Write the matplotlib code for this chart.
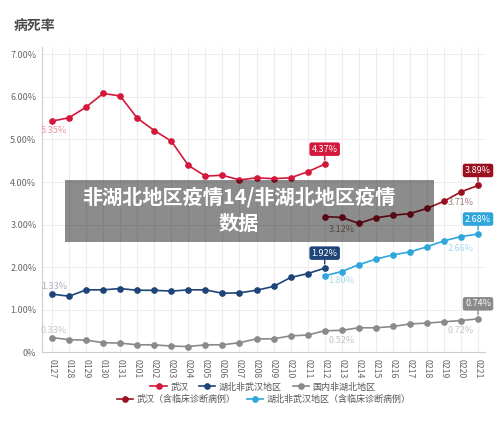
import numpy as np
import matplotlib
matplotlib.use("Agg")
import matplotlib.pyplot as plt
from matplotlib.patches import Rectangle

plt.rcParams['font.family'] = ['Noto Sans CJK SC', 'DejaVu Sans']

dates = ["0127", "0128", "0129", "0130", "0131", "0201", "0202", "0203", "0204",
         "0205", "0206", "0207", "0208", "0209", "0210", "0211", "0212", "0213",
         "0214", "0215", "0216", "0217", "0218", "0219", "0220", "0221"]

# 病死率 (%)
wuhan = [5.43, 5.51, 5.76, 6.08, 6.02, 5.50, 5.21, 4.96, 4.39, 4.14, 4.16,
         4.05, 4.10, 4.08, 4.10, 4.24, 4.42]
hubei_other = [1.37, 1.32, 1.47, 1.47, 1.50, 1.46, 1.46, 1.44, 1.47, 1.47, 1.39,
               1.40, 1.46, 1.55, 1.76, 1.85, 1.98]
non_hubei = [0.35, 0.30, 0.29, 0.23, 0.22, 0.18, 0.18, 0.15, 0.14, 0.18, 0.18,
             0.23, 0.32, 0.32, 0.39, 0.41, 0.51, 0.52, 0.58, 0.58, 0.61, 0.67,
             0.69, 0.72, 0.75, 0.79]
wuhan_clin = [3.19, 3.17, 3.03, 3.16, 3.22, 3.26, 3.38, 3.55, 3.77, 3.92]
hubei_other_clin = [1.80, 1.90, 2.06, 2.19, 2.29, 2.36, 2.48, 2.62, 2.72, 2.78]

series_names = ["武汉", "湖北非武汉地区", "国内非湖北地区",
                "武汉（含临床诊断病例）", "湖北非武汉地区（含临床诊断病例）"]
series_values = [wuhan, hubei_other, non_hubei, wuhan_clin, hubei_other_clin]
series_start = [0, 0, 0, 16, 16]
colors = ["#d4183b", "#1f4478", "#8a8a8a", "#9b1020", "#2ea6dc"]
pale_colors = ["#e9939f", "#a9b0bb", "#c4c4c4", "#a27a7a", "#a6d8ee"]

# tag labels at the last point
tag_series = [0, 1, 3, 4, 2]
tag_dates = [16, 16, 25, 25, 25]
tag_texts = ["4.37%", "1.92%", "3.89%", "2.68%", "0.74%"]

# light labels next to some points
soft_series = [0, 1, 2, 3, 3, 4, 4, 2, 2]
soft_dates = [0, 0, 0, 17, 24, 17, 24, 17, 24]
soft_texts = ["5.35%", "1.33%", "0.33%", "3.12%", "3.71%", "1.80%", "2.66%",
              "0.52%", "0.72%"]
soft_dy = [-9, 8, 7, -12, -11, -9, -12, -10, -10]
soft_dx = [2, 2, 2, 0, 0, 0, 0, 0, 0]

fig = plt.figure(figsize=(5, 4.23), dpi=100)
ax = fig.add_axes([0.084, 0.1667, 0.886, 0.7222])

lines = []
for vals, start, c, name in zip(series_values, series_start, colors, series_names):
    x = np.arange(start, start + len(vals))
    ln, = ax.plot(x, vals, color=c, lw=1.2, marker='o', ms=3.8, mec=c,
                  label=name, zorder=3)
    lines.append(ln)

for s, d, t in zip(tag_series, tag_dates, tag_texts):
    v = series_values[s][d - series_start[s]]
    ax.annotate(t, (d, v), xytext=(0, 15), textcoords='offset pixels',
                ha='center', va='center', color='white', fontsize=6.5,
                bbox=dict(boxstyle='round,pad=0.25', fc=colors[s], ec='none'),
                arrowprops=dict(arrowstyle='-', color=colors[s], lw=1,
                                shrinkA=0, shrinkB=3), zorder=5)

for s, d, t, dy, dx in zip(soft_series, soft_dates, soft_texts, soft_dy, soft_dx):
    v = series_values[s][d - series_start[s]]
    ax.annotate(t, (d, v), xytext=(dx, dy), textcoords='offset pixels',
                ha='center', va='center', color=pale_colors[s], fontsize=6.5,
                zorder=4)

ax.set_xlim(-0.59, 25.41)
ax.set_ylim(0, 7.17)
ax.set_xticks(np.arange(len(dates)))
ax.set_xticklabels(dates, rotation=-90, fontsize=6.3, color='#666666')
ax.set_yticks(np.arange(0, 8))
ax.set_yticklabels(["0%"] + ["%.2f%%" % v for v in range(1, 8)],
                   fontsize=6.5, color='#666666')
ax.tick_params(axis='x', length=0, pad=5)
ax.tick_params(axis='y', length=0, pad=4)
ax.grid(True, color='#ededed', lw=0.8)
ax.set_axisbelow(True)
for side in ["top", "right"]:
    ax.spines[side].set_visible(False)
ax.spines["left"].set_color('#cccccc')
ax.spines["bottom"].set_color('#cccccc')

fig.legend(handles=lines[:3], loc='center', bbox_to_anchor=(0.526, 0.085),
           ncol=3, frameon=False, fontsize=6.5, handlelength=1.8,
           handletextpad=0.4, columnspacing=1.2, labelcolor='#555555')
fig.legend(handles=lines[3:], loc='center', bbox_to_anchor=(0.528, 0.056),
           ncol=2, frameon=False, fontsize=6.5, handlelength=1.8,
           handletextpad=0.4, columnspacing=1.2, labelcolor='#555555')

fig.text(0.028, 0.938, "病死率", fontsize=10, fontweight='bold', color='#4a4a4a',
         ha='left', va='center')

fig.add_artist(Rectangle((0.13, 0.428), 0.738, 0.1466, transform=fig.transFigure,
                         fc='black', alpha=0.45, ec='none', zorder=10))
fig.text(0.478, 1 - 196.5 / 423, "非湖北地区疫情14/非湖北地区疫情", fontsize=14.5,
         fontweight='bold', color='white', ha='center', va='center', zorder=11)
fig.text(0.478, 1 - 223 / 423, "数据", fontsize=14.5, fontweight='bold',
         color='white', ha='center', va='center', zorder=11)

fig.savefig("out.png", dpi=100)
